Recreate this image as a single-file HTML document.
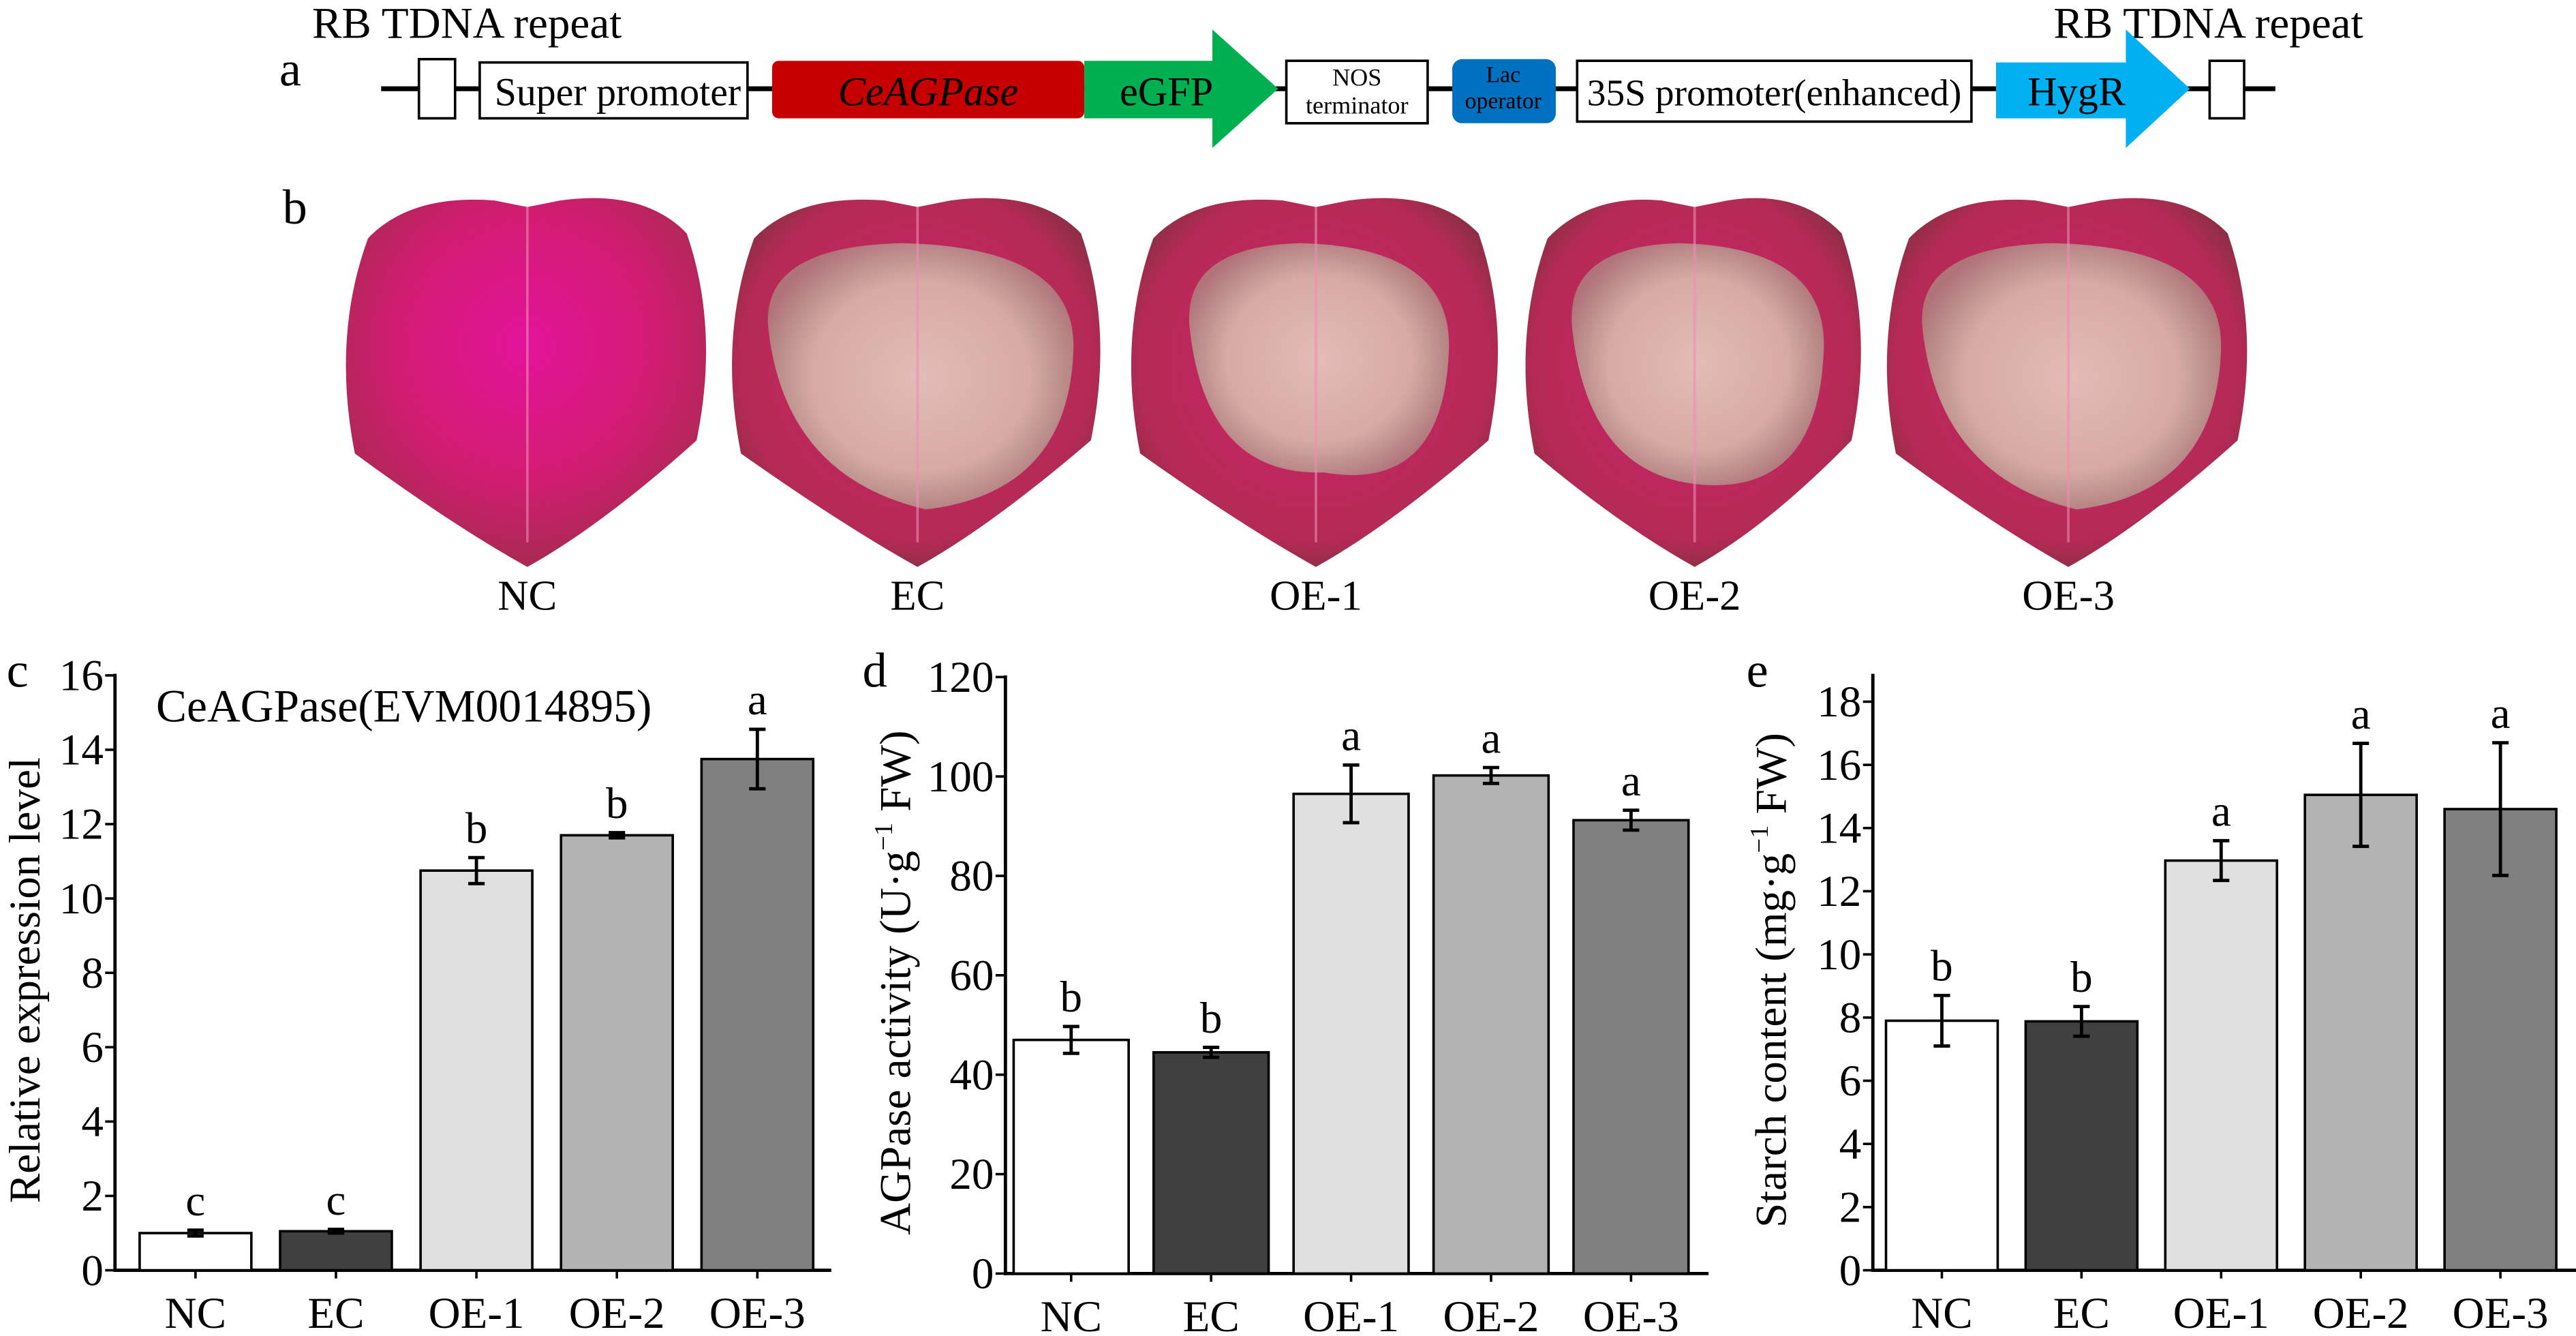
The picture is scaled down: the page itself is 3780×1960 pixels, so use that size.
<!DOCTYPE html>
<html><head><meta charset="utf-8"><style>
html,body{margin:0;padding:0;background:#fff;}
svg{display:block;}
text{font-family:"Liberation Serif",serif;fill:#000;}
</style></head><body>
<svg id="fig" width="3780" height="1960" viewBox="0 0 1568 813" preserveAspectRatio="none" xmlns="http://www.w3.org/2000/svg">
<defs>
<radialGradient id="gPink" cx="50%" cy="40%" r="60%"><stop offset="0" stop-color="#e3139a"/><stop offset="0.6" stop-color="#d21c72"/><stop offset="1" stop-color="#a82a50"/></radialGradient>
<radialGradient id="gDark" cx="50%" cy="45%" r="60%"><stop offset="0" stop-color="#d0246a"/><stop offset="0.8" stop-color="#b42a55"/><stop offset="1" stop-color="#7e3040"/></radialGradient>
<radialGradient id="gPatch" cx="50%" cy="50%" r="55%"><stop offset="0" stop-color="#e6c8bd"/><stop offset="0.65" stop-color="#d8b6aa"/><stop offset="1" stop-color="#a8caa0" stop-opacity="0.5"/></radialGradient>
</defs>
<g>
<text x="170" y="52" font-size="30">a</text>
<text x="190" y="23" font-size="27">RB TDNA repeat</text>
<text x="1250" y="23" font-size="27">RB TDNA repeat</text>
<line x1="232" y1="54" x2="1385" y2="54" stroke="#000" stroke-width="3"/>
<rect x="255" y="36" width="22" height="36" fill="#fff" stroke="#000" stroke-width="1.5"/>
<rect x="292" y="38" width="163" height="34" fill="#fff" stroke="#000" stroke-width="1.5"/>
<text x="376" y="64" font-size="24" text-anchor="middle">Super promoter</text>
<rect x="470" y="37" width="190" height="35" rx="4" fill="#c60000"/>
<text x="565" y="64" font-size="25" font-style="italic" text-anchor="middle">CeAGPase</text>
<path d="M660 37 H738 V18 L778 54 L738 90 V72 H660 Z" fill="#00b050"/>
<text x="710" y="64" font-size="25" text-anchor="middle">eGFP</text>
<rect x="783" y="37" width="86" height="38" fill="#fff" stroke="#000" stroke-width="1.5"/>
<text x="826" y="52" font-size="15" text-anchor="middle">NOS</text>
<text x="826" y="69" font-size="15" text-anchor="middle">terminator</text>
<rect x="884" y="36" width="63" height="39" rx="6" fill="#0070c0"/>
<text x="915" y="50" font-size="14" text-anchor="middle">Lac</text>
<text x="915" y="66" font-size="14" text-anchor="middle">operator</text>
<rect x="960" y="37" width="240" height="37" fill="#fff" stroke="#000" stroke-width="1.5"/>
<text x="1080" y="64" font-size="23" text-anchor="middle">35S promoter(enhanced)</text>
<path d="M1215 38 H1294 V18 L1333 54 L1294 90 V72 H1215 Z" fill="#00b0f0"/>
<text x="1264" y="64" font-size="25" text-anchor="middle">HygR</text>
<rect x="1345" y="37" width="21" height="35" fill="#fff" stroke="#000" stroke-width="1.5"/>
</g>
<text x="172" y="136" font-size="30">b</text>
<g id="leaves"></g>
<g id="charts"></g>
</svg>
<script>
const NS="http://www.w3.org/2000/svg";
function mk(tag,attrs,parent){const e=document.createElementNS(NS,tag);for(const k in attrs)e.setAttribute(k,attrs[k]);parent.appendChild(e);return e;}
const leafNames=["NC","EC","OE-1","OE-2","OE-3"];
const leafX=[[210,432],[445,672],[688,914],[928,1135],[1148,1370]];
const leafPatch=[0,1,0.85,0.9,1];
const L=document.getElementById('leaves');
leafNames.forEach((n,i)=>{
 const [x0,x1]=leafX[i],cx=(x0+x1)/2;
 const d=`M${x0+14} 145 Q${x0+40} 118 ${cx-20} 122 L${cx} 126 L${cx+20} 122 Q${x1-40} 115 ${x1-14} 142 Q${x1+6} 200 ${x1-8} 268 Q${cx+45} 320 ${cx} 345 Q${cx-45} 320 ${x0+6} 276 Q${x0-8} 205 ${x0+14} 145 Z`;
 const p=mk('path',{d:d,fill:i==0?'url(#gPink)':'url(#gDark)'},L);
 
 
 if(leafPatch[i]>0){
  const s=leafPatch[i],w=(x1-x0)*0.4*s;
  mk('path',{d:`M${cx-w} 200 Q${cx-w-5} 150 ${cx-10} 148 Q${cx+w+8} 150 ${cx+w+4} 215 Q${cx+w} 300 ${cx+5} ${150+150*s+10} Q${cx-w+10} 290 ${cx-w} 200 Z`,fill:'url(#gPatch)',opacity:0.92},L);
 }
 mk('line',{x1:cx,y1:126,x2:cx,y2:330,stroke:'#f08cb8','stroke-width':1.5,opacity:0.6},L);
 const t=mk('text',{x:cx,y:371,'font-size':26,'text-anchor':'middle'},L);t.textContent=n;
 
 
});
const categories=["NC","EC","OE-1","OE-2","OE-3"];
const barFills=["#ffffff","#404040","#e0e0e0","#b3b3b3","#808080"];
const exprValues=[1.0,1.05,10.75,11.7,13.75];
const exprErrors=[0.08,0.05,0.35,0.07,0.8];
const exprLetters=["c","c","b","b","a"];
const exprTicks=[0,2,4,6,8,10,12,14,16];
const actValues=[47,44.5,96.5,100.2,91.2];
const actErrors=[2.7,1.0,5.8,1.6,2.0];
const actLetters=["b","b","a","a","a"];
const actTicks=[0,20,40,60,80,100,120];
const starchValues=[7.9,7.88,12.97,15.05,14.6];
const starchErrors=[0.8,0.47,0.63,1.63,2.1];
const starchLetters=["b","b","a","a","a"];
const starchTicks=[0,2,4,6,8,10,12,14,16,18];

const C=document.getElementById('charts');
function chart(o){
 const g=mk('g',{},C);
 
 
 const y=v=>o.y0-(v-o.vmin)*(o.y0-o.yTop)/(o.vmax-o.vmin);
 const bx=i=>o.xStart+i*o.step;
 mk('line',{x1:o.ax,y1:o.axTop,x2:o.ax,y2:o.y0+1,stroke:'#000','stroke-width':2},g);
 mk('line',{x1:o.ax-1,y1:o.y0,x2:o.axRight,y2:o.y0,stroke:'#000','stroke-width':2},g);
 o.ticks.forEach(t=>{
  mk('line',{x1:o.ax-6,y1:y(t),x2:o.ax,y2:y(t),stroke:'#000','stroke-width':1.5},g);
  const tx=mk('text',{x:o.ax-7,y:y(t)+9,'font-size':27,'text-anchor':'end'},g);tx.textContent=t;
  
  
 });
 categories.forEach((c,i)=>{
  const x=bx(i),v=o.values[i],e=o.errors[i],cx=x+o.bw/2;
  const r=mk('rect',{x:x,y:y(v),width:o.bw,height:o.y0-y(v),fill:barFills[i],stroke:'#000','stroke-width':1.5},g);
  
  
  mk('line',{x1:cx,y1:o.y0,x2:cx,y2:o.y0+5,stroke:'#000','stroke-width':1.5},g);
  const eb=mk('path',{d:`M${cx} ${y(v-e)} V${y(v+e)} M${cx-5} ${y(v-e)} H${cx+5} M${cx-5} ${y(v+e)} H${cx+5}`,stroke:'#000','stroke-width':2,fill:'none'},g);
  
  
  const lt=mk('text',{x:cx,y:y(v+e)-9,'font-size':27,'text-anchor':'middle'},g);lt.textContent=o.letters[i];
  
  
  const xl=mk('text',{x:cx,y:o.y0+35,'font-size':27,'text-anchor':'middle'},g);xl.textContent=c;
  
  
 });
 const pl=mk('text',{x:o.letterX,y:418,'font-size':30},g);pl.textContent=o.letter;
 
 
 const yt=mk('text',{x:0,y:0,'font-size':27,'text-anchor':'middle',transform:`translate(${o.titleX},${(o.axTop+o.y0)/2+5}) rotate(-90)`},g);
 yt.innerHTML=o.title;
 
 
 return g;
}
const gc=chart({name:'chart-c-expression',ax:70,axTop:410,axRight:506,y0:773,yTop:411,vmin:0,vmax:16,ticks:exprTicks,values:exprValues,errors:exprErrors,letters:exprLetters,xStart:85,step:85.5,bw:68,letter:'c',letterX:4,titleX:24,title:'Relative expression level'});
const ct=mk('text',{x:95,y:439,'font-size':28},gc);ct.textContent='CeAGPase(EVM0014895)';


chart({name:'chart-d-agpase-activity',ax:612,axTop:411,axRight:1040,y0:775,yTop:412,vmin:0,vmax:120,ticks:actTicks,values:actValues,errors:actErrors,letters:actLetters,xStart:617,step:85.2,bw:70,letter:'d',letterX:525,titleX:554,title:'AGPase activity (U·g<tspan font-size="16" dy="-11">−1</tspan><tspan dy="11"> FW)</tspan>'});
chart({name:'chart-e-starch-content',ax:1140,axTop:410,axRight:1568,y0:773,yTop:427,vmin:0,vmax:18,ticks:starchTicks,values:starchValues,errors:starchErrors,letters:starchLetters,xStart:1148,step:85,bw:68,letter:'e',letterX:1063,titleX:1087,title:'Starch content (mg·g<tspan font-size="16" dy="-11">−1</tspan><tspan dy="11"> FW)</tspan>'});
</script>
</body></html>
